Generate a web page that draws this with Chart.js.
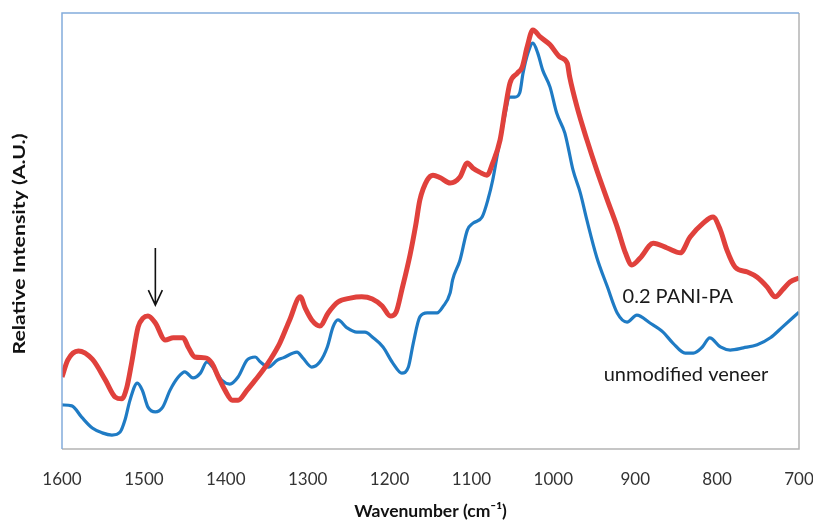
<!DOCTYPE html>
<html>
<head>
<meta charset="utf-8">
<script src="https://cdn.jsdelivr.net/npm/chart.js@4.4.1/dist/chart.umd.min.js"></script>
<style>
  html, body { margin: 0; padding: 0; background: #fff; }
</style>
</head>
<body>
<canvas id="spectrum" width="813" height="521"></canvas>
<script>
// FTIR spectra: wavenumber (cm-1) and relative intensity (A.U.)
var paniWave = [1600,1593,1580,1563,1547,1535,1527,1521,1515,1507,1501,1495,1486,1474,1464,1452,1446,1438,1425,1417,
  1409,1401,1392,1385,1374,1364,1356,1346,1334,1322,1309,1303,1295,1285,1275,1263,1248,1234,1221,1209,
  1199,1192,1185,1175,1168,1163,1154,1147,1138,1126,1114,1105,1098,1090,1081,1074,1065,1059,1053,1044,
  1038,1032,1025,1016,1004,992,983,980,971,959,947,934,922,912,904,894,878,861,845,833,
  817,805,796,788,778,763,751,739,729,720,711,700];
var paniIntensity = [16.5,20.4,22.5,20.6,15.8,11.9,11.5,14.0,19.7,28.0,30.0,30.5,28.9,25.0,25.5,25.5,23.4,21.1,20.9,19.7,
  16.5,13.5,11.2,11.2,13.5,15.8,17.7,20.4,24.3,29.6,34.9,32.3,29.6,28.2,31.2,33.7,34.6,34.9,34.4,32.8,
  30.5,31.4,36.5,44.5,51.4,57.1,61.7,62.8,62.2,61.0,62.4,65.6,64.4,63.5,62.8,65.6,70.9,77.8,83.9,86.2,
  87.6,92.2,96.1,94.5,92.7,89.9,88.5,85.3,78.4,70.9,64.0,57.1,50.9,45.0,42.2,43.8,47.2,46.1,45.0,48.6,
  51.8,53.2,50.2,45.6,41.7,40.6,39.4,37.2,34.9,36.5,38.3,39.2];

var veneerWave = [1600,1588,1576,1563,1551,1539,1529,1523,1517,1508,1502,1495,1486,1477,1468,1458,1450,1440,1431,1423,
  1416,1405,1395,1385,1374,1364,1358,1348,1337,1330,1313,1306,1295,1285,1276,1269,1263,1252,1240,1230,
  1220,1208,1196,1185,1177,1171,1163,1154,1142,1135,1126,1123,1114,1105,1098,1087,1080,1074,1068,1061,
  1053,1047,1041,1037,1031,1025,1019,1013,1004,996,986,982,976,967,959,947,934,922,910,898,
  882,866,854,839,829,818,809,796,784,768,751,735,720,700];
var veneerIntensity = [10.1,9.9,7.3,4.8,3.7,3.2,3.9,6.7,11.2,15.1,13.5,9.6,8.5,9.6,13.5,16.5,17.7,16.3,17.4,20.0,
  18.8,15.8,14.9,16.5,20.4,21.1,20.0,18.8,20.4,20.9,22.2,20.9,18.8,20.0,23.4,28.0,29.6,27.8,26.8,26.8,
  25.5,23.4,19.7,17.4,18.8,24.3,30.3,31.2,31.2,32.6,35.8,38.8,43.3,50.2,51.8,53.2,57.1,61.7,67.9,74.8,
  80.7,80.7,81.7,86.2,90.8,93.1,90.8,86.9,83.0,77.1,72.5,69.3,64.0,58.7,52.5,44.0,37.2,31.2,29.1,30.7,
  28.9,26.8,24.3,22.0,22.0,23.4,25.5,23.4,22.7,23.2,23.9,25.5,28.0,31.4];

var waveTicks = [1600,1500,1400,1300,1200,1100,1000,900,800,700];

// in-plot labels and the arrow, placed in data units
var noteText = ["0.2 PANI-PA", "unmodified veneer"];
var noteWave = [848, 838];
var noteValue = [34.9, 17.0];
var arrowWave = 1486;
var arrowFrom = 46.1;
var arrowTo = 33.0;

function toPoints(xs, ys) {
  var pts = [];
  for (var i = 0; i < xs.length; i++) pts.push({x: xs[i], y: ys[i]});
  return pts;
}

var extras = {
  id: 'extras',
  afterDraw: function(chart) {
    var a = chart.chartArea, ctx = chart.ctx;
    var xs = chart.scales.x, ys = chart.scales.y;
    ctx.save();
    // plot frame: blue top/left, grey bottom/right
    ctx.lineWidth = 1.5;
    ctx.strokeStyle = '#b4b4b4';
    ctx.beginPath();
    ctx.moveTo(a.right, a.top); ctx.lineTo(a.right, a.bottom); ctx.lineTo(a.left, a.bottom);
    ctx.stroke();
    ctx.strokeStyle = '#83acdc';
    ctx.beginPath();
    ctx.moveTo(a.left, a.bottom); ctx.lineTo(a.left, a.top); ctx.lineTo(a.right, a.top);
    ctx.stroke();

    // series labels
    ctx.fillStyle = '#1a1a1a';
    ctx.font = '20px Lato';
    ctx.textAlign = 'center';
    ctx.textBaseline = 'middle';
    for (var i = 0; i < noteText.length; i++) {
      ctx.fillText(noteText[i], xs.getPixelForValue(noteWave[i]), ys.getPixelForValue(noteValue[i]));
    }

    // arrow pointing at the 1490 band
    var ax = xs.getPixelForValue(arrowWave);
    var y0 = ys.getPixelForValue(arrowFrom), y1 = ys.getPixelForValue(arrowTo);
    ctx.strokeStyle = '#111';
    ctx.lineWidth = 1.6;
    ctx.beginPath();
    ctx.moveTo(ax, y0); ctx.lineTo(ax, y1);
    ctx.moveTo(ax - 7, y1 - 15); ctx.lineTo(ax, y1); ctx.lineTo(ax + 7, y1 - 15);
    ctx.stroke();

    // y axis title (the source picture is stretched vertically)
    ctx.translate(20, (a.top + a.bottom) / 2 + 13);
    ctx.rotate(-Math.PI / 2);
    ctx.scale(1.25, 1);
    ctx.font = 'bold 17px Lato';
    ctx.fillStyle = '#111';
    ctx.fillText('Relative Intensity (A.U.)', 0, 0);
    ctx.restore();
  }
};

new Chart(document.getElementById('spectrum'), {
  type: 'line',
  data: {
    datasets: [
      {
        label: '0.2 PANI-PA',
        data: toPoints(paniWave, paniIntensity),
        borderColor: '#e0413c',
        borderWidth: 5,
        pointRadius: 0,
        cubicInterpolationMode: 'monotone'
      },
      {
        label: 'unmodified veneer',
        data: toPoints(veneerWave, veneerIntensity),
        borderColor: '#1f7bc4',
        borderWidth: 3.2,
        pointRadius: 0,
        cubicInterpolationMode: 'monotone'
      }
    ]
  },
  options: {
    responsive: false,
    animation: false,
    devicePixelRatio: 1,
    layout: { padding: { top: 13, right: 14, left: 0, bottom: 0 } },
    plugins: { legend: { display: false }, tooltip: { enabled: false } },
    scales: {
      x: {
        type: 'linear',
        reverse: true,
        min: 700,
        max: 1600,
        grid: { display: false, drawTicks: false },
        border: { display: false },
        afterBuildTicks: function(scale) {
          scale.ticks = waveTicks.map(function(v) { return {value: v}; });
        },
        ticks: {
          autoSkip: false,
          maxRotation: 0,
          padding: 20,
          color: '#333',
          font: { family: 'Lato', size: 17 },
          callback: function(v) { return String(v); }
        },
        title: {
          display: true,
          text: 'Wavenumber (cm\u207B\u00B9)',
          color: '#111',
          font: { family: 'Lato', size: 17.5, weight: 'bold', lineHeight: 1 },
          padding: { top: 0, bottom: 1 }
        },
        afterFit: function(scale) {
          scale.height = 72;
          scale.paddingLeft = 0;
          scale.paddingRight = 0;
        }
      },
      y: {
        min: 0,
        max: 100,
        grid: { display: false, drawTicks: false },
        border: { display: false },
        ticks: { display: false },
        afterFit: function(scale) {
          scale.width = 62;
        }
      }
    }
  },
  plugins: [extras]
});
</script>
</body>
</html>
